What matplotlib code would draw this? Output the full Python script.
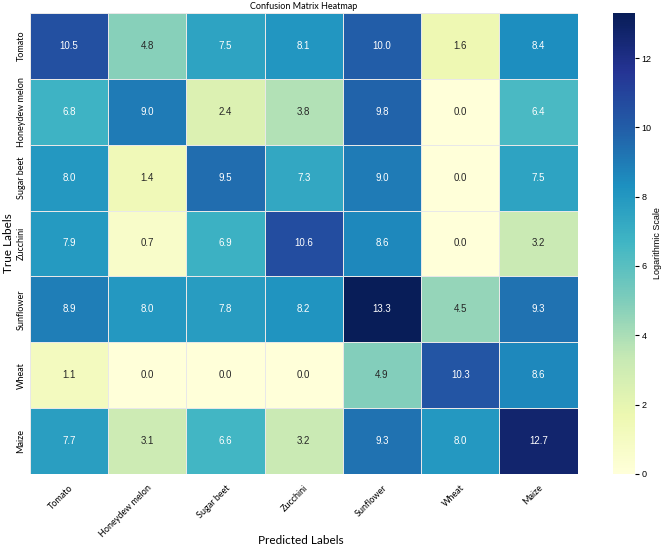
import numpy as np
import matplotlib
matplotlib.use("Agg")
import matplotlib.pyplot as plt
import seaborn as sns

labels = ["Tomato", "Honeydew melon", "Sugar beet", "Zucchini", "Sunflower", "Wheat", "Maize"]

# rows = true labels, columns = predicted labels
row_tomato = [10.5, 4.8, 7.5, 8.1, 10.0, 1.6, 8.4]
row_honeydew = [6.8, 9.0, 2.4, 3.8, 9.8, 0.0, 6.4]
row_sugarbeet = [8.0, 1.4, 9.5, 7.3, 9.0, 0.0, 7.5]
row_zucchini = [7.9, 0.7, 6.9, 10.6, 8.6, 0.0, 3.2]
row_sunflower = [8.9, 8.0, 7.8, 8.2, 13.3, 4.5, 9.3]
row_wheat = [1.1, 0.0, 0.0, 0.0, 4.9, 10.3, 8.6]
row_maize = [7.7, 3.1, 6.6, 3.2, 9.3, 8.0, 12.7]

cm = np.array([row_tomato, row_honeydew, row_sugarbeet, row_zucchini,
               row_sunflower, row_wheat, row_maize])

fig = plt.figure(figsize=(6.61, 5.49), dpi=100)
ax = fig.add_axes([0.045, 0.137, 0.829, 0.839])
cax = fig.add_axes([0.927, 0.137, 0.033, 0.839])

sns.heatmap(cm, ax=ax, cbar_ax=cax, cmap="YlGnBu", vmin=0, vmax=cm.max(),
            annot=True, fmt=".1f", annot_kws={"size": 7, "family": "Liberation Sans"},
            linewidths=0.6, linecolor="#e8e8e8",
            xticklabels=labels, yticklabels=labels)

ax.set_title("Confusion Matrix Heatmap", fontsize=6.5, pad=3, family="Lato")
ax.set_xlabel("Predicted Labels", fontsize=8.5, family="Lato")
ax.xaxis.set_label_coords(0.495, -0.145)
ax.xaxis.label.set_va("center")
ax.set_ylabel("True Labels", fontsize=8.5, family="Lato", labelpad=2)
ax.set_xticklabels(labels, rotation=45, ha="right", rotation_mode="anchor",
                   fontsize=6.5, family="Lato")
ax.set_yticklabels(labels, rotation=90, va="center", fontsize=6.5, family="Lato")
ax.tick_params(axis="x", length=0, pad=7)
ax.tick_params(axis="y", length=0, pad=3)

cax.tick_params(labelsize=6.5, length=3, pad=2)
for t in cax.get_yticklabels():
    t.set_family("Liberation Sans")
cax.set_ylabel("Logarithmic Scale", fontsize=6.5, labelpad=1, family="Liberation Sans")

fig.savefig("out.png", dpi=100)
